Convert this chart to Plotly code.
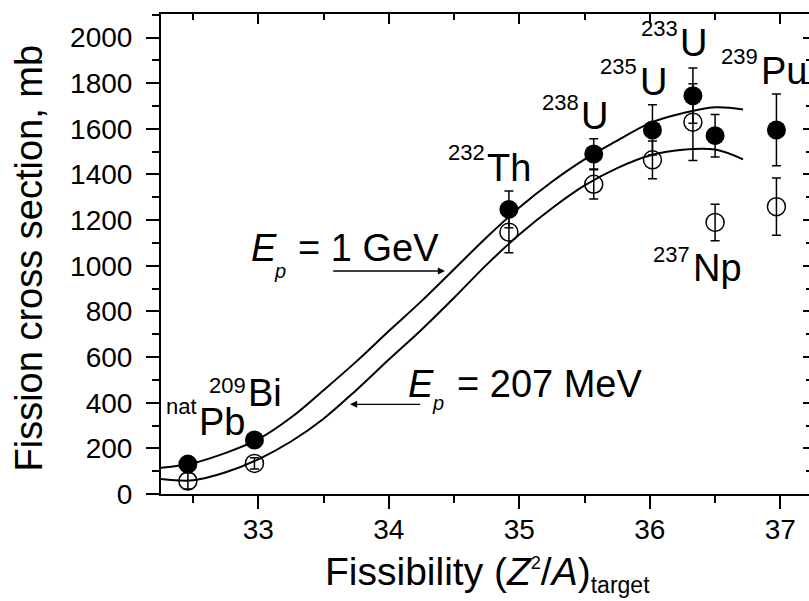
import plotly.graph_objects as go

# ---------------- data ----------------
targets = ["natPb", "209Bi", "232Th", "238U", "235U", "233U", "237Np", "239Pu"]
fissility = [32.46, 32.97, 34.92, 35.57, 36.02, 36.33, 36.50, 36.97]
sigma_1gev = [131, 237, 1247, 1490, 1595, 1745, 1570, 1595]
err_1gev = [15, 20, 80, 66, 110, 121, 93, 157]
sigma_207 = [57, 134, 1147, 1357, 1464, 1629, 1190, 1259]
err_207 = [35, 25, 90, 64, 83, 168, 80, 125]

curve_x = [32.254, 32.5, 32.75, 33.0, 33.25, 33.5, 33.75, 34.0, 34.25, 34.5,
           34.75, 35.0, 35.25, 35.5, 35.75, 36.0, 36.25, 36.5, 36.714]
curve_y_1gev = [115, 135, 180, 240, 335, 455, 580, 714, 845, 985,
                1125, 1255, 1368, 1466, 1548, 1625, 1668, 1694, 1685]
curve_y_207 = [66, 60, 95, 152, 230, 330, 455, 589, 720, 860,
               1005, 1137, 1252, 1352, 1428, 1483, 1508, 1509, 1466]

x_range = [32.254, 37.2196]
y_range = [0, 2103]

# ---------------- layout geometry (pixels) ----------------
W, H = 809, 601
L, R, T, B = 161, 0, 14, 107
PW, PH = W - L - R, H - T - B
FONT = "Liberation Sans, Arial, sans-serif"
ASC = 0.905


def pp(px, py):
    return (px - L) / PW, (H - B - py) / PH


fig = go.Figure()

for cy in (curve_y_1gev, curve_y_207):
    fig.add_trace(go.Scatter(x=curve_x, y=cy, mode="lines",
                             line=dict(color="black", width=2, shape="spline", smoothing=1),
                             hoverinfo="skip"))

fig.add_trace(go.Scatter(x=fissility, y=sigma_207, mode="markers", text=targets,
                         marker=dict(symbol="circle-open", size=18, color="black",
                                     line=dict(width=1.5, color="black")),
                         error_y=dict(type="data", array=err_207, color="black",
                                      thickness=1.5, width=4.5)))
fig.add_trace(go.Scatter(x=fissility, y=sigma_1gev, mode="markers", text=targets,
                         marker=dict(symbol="circle", size=19, color="black"),
                         error_y=dict(type="data", array=err_1gev, color="black",
                                      thickness=1.5, width=4.5)))
# dummy trace for mirror axes
fig.add_trace(go.Scatter(x=[fissility[0]], y=[sigma_1gev[0]], xaxis="x2", yaxis="y2",
                         mode="markers", marker=dict(opacity=0), hoverinfo="skip"))

ann = []


def text_ann(txt, left_px, base_px, size, anchor="left"):
    x, y = pp(left_px, base_px - ASC * size)
    ann.append(dict(xref="paper", yref="paper", x=x, y=y, xanchor=anchor,
                    yanchor="top", text=txt, showarrow=False,
                    font=dict(size=size, family=FONT, color="black"),
                    borderpad=0, borderwidth=0))


# element labels: (sup, main, main_left, main_base, sup_right, sup_base)
labels = [
    ("nat", "Pb", 199, 435.5, 196.7, 413.5),
    ("209", "Bi", 248.3, 406, 246, 393.3),
    ("232", "Th", 486.7, 181.7, 485, 160),
    ("238", "U", 581, 129.3, 579.3, 110),
    ("235", "U", 640, 95, 636.7, 74),
    ("233", "U", 680, 56.7, 677.7, 35.7),
    ("239", "Pu", 761, 84, 758.3, 64),
    ("237", "Np", 693.3, 281.7, 690, 261.7),
]
for sup, main, ml, mb, sr, sb in labels:
    text_ann(main, ml, mb, 38)
    text_ann(sup, sr, sb, 22, anchor="right")

# energy labels
text_ann("<i>E</i>", 250.7, 261.7, 38)
text_ann("<i>p</i>", 274.3, 277.7, 20)
text_ann("= 1 GeV", 298.3, 261.7, 38)
text_ann("<i>E</i>", 408.3, 397.3, 38)
text_ann("<i>p</i>", 431.7, 410.4, 20)
text_ann("= 207 MeV", 456.7, 397.3, 38)

# arrows
for (hx, hy, tx, ty) in [(445, 271, 331.7, 271), (350, 404.3, 421.7, 404.3)]:
    x, y = pp(hx, hy)
    ann.append(dict(xref="paper", yref="paper", x=x, y=y, ax=tx - hx, ay=ty - hy,
                    text="", showarrow=True, arrowhead=2, arrowsize=1.1,
                    arrowwidth=1.3, arrowcolor="black", standoff=0))

# axis titles
xt = ("Fissibility (<i>Z</i><sup><span style='font-size:18px'>2</span></sup>/<i>A</i>)"
      "<sub><span style='font-size:23px'>target</span></sub>")
x, y = pp(487.5, 583.3 - ASC * 39)
ann.append(dict(xref="paper", yref="paper", x=x, y=y, xanchor="center", yanchor="top",
                text=xt, showarrow=False, font=dict(size=39, family=FONT, color="black")))
x, y = pp(28.5, 258)
ann.append(dict(xref="paper", yref="paper", x=x, y=y, xanchor="center", yanchor="middle",
                text="Fission cross section, mb", textangle=-90, showarrow=False,
                font=dict(size=38, family=FONT, color="black")))

axis_common = dict(showgrid=False, zeroline=False, linecolor="black", tickcolor="black",
                   tickwidth=2)

fig.update_layout(
    width=W, height=H, margin=dict(l=L, r=R, t=T, b=B, autoexpand=False),
    plot_bgcolor="white", paper_bgcolor="white", showlegend=False,
    font=dict(family=FONT, color="black"),
    annotations=ann,
    xaxis=dict(range=x_range, tickmode="linear", tick0=33, dtick=1, ticks="outside",
               ticklen=13, showline=True, linewidth=2, tickfont=dict(size=28),
               ticklabelstandoff=-4,
               minor=dict(tick0=33, dtick=0.5, ticks="outside", ticklen=7, tickwidth=2,
                          tickcolor="black", showgrid=False),
               **axis_common),
    xaxis2=dict(range=x_range, overlaying="x", side="top", tickmode="linear", tick0=33,
                dtick=1, ticks="inside", ticklen=10, showline=True, linewidth=2,
                showticklabels=False,
                minor=dict(tick0=33, dtick=0.5, ticks="inside", ticklen=6, tickwidth=2,
                           tickcolor="black", showgrid=False),
                **axis_common),
    yaxis=dict(range=y_range, tickmode="linear", tick0=0, dtick=200, ticks="outside",
               ticklen=13, showline=True, linewidth=2, tickfont=dict(size=28),
               ticklabelstandoff=8,
               minor=dict(tick0=0, dtick=100, ticks="outside", ticklen=7, tickwidth=2,
                          tickcolor="black", showgrid=False),
               **axis_common),
    yaxis2=dict(range=y_range, overlaying="y", side="right", tickmode="linear", tick0=0,
                dtick=200, ticks="inside", ticklen=6, showline=False,
                showticklabels=False,
                minor=dict(tick0=0, dtick=100, ticks="inside", ticklen=3, tickwidth=2,
                           tickcolor="black", showgrid=False),
                **axis_common),
)

fig.write_html("out.html")
